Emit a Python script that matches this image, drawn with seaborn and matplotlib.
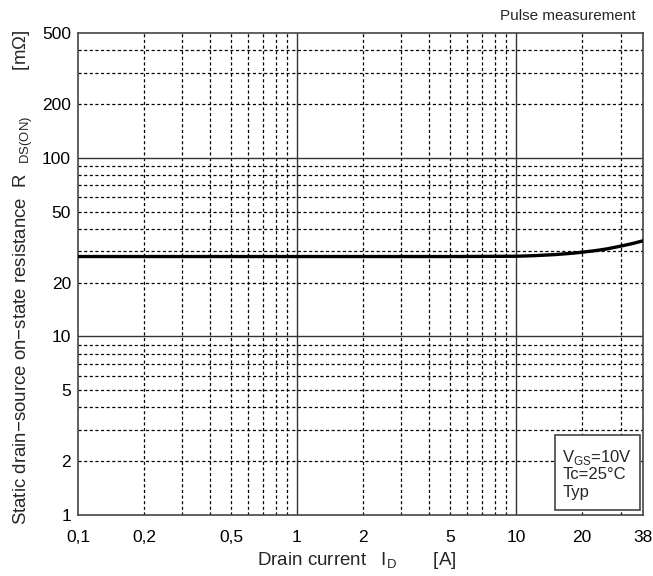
import numpy as np
import pandas as pd
import matplotlib
matplotlib.use("Agg")
import matplotlib.pyplot as plt
import matplotlib.ticker as mticker
import matplotlib.patches as mpatches
import seaborn as sns

# curve
drain_current = [0.1, 0.2, 0.5, 1, 2, 5, 10, 12, 15, 18, 20, 23, 26, 30, 34, 38]
resistance = [28, 28, 28, 28, 28, 28, 28.1, 28.3, 28.7, 29.2, 29.6, 30.2, 30.9, 32, 33.1, 34.3]

x_ticks = [0.1, 0.2, 0.5, 1, 2, 5, 10, 20, 38]
x_labels = ["0,1", "0,2", "0,5", "1", "2", "5", "10", "20", "38"]
y_ticks = [1, 2, 5, 10, 20, 50, 100, 200, 500]
y_labels = ["1", "2", "5", "10", "20", "50", "100", "200", "500"]

x_major = [1, 10]
x_minor = [0.2, 0.3, 0.4, 0.5, 0.6, 0.7, 0.8, 0.9,
           2, 3, 4, 5, 6, 7, 8, 9, 20, 30]
y_major = [10, 100]
y_minor = [2, 3, 4, 5, 6, 7, 8, 9,
           20, 30, 40, 50, 60, 70, 80, 90, 200, 300, 400]

df = pd.DataFrame({"ID": drain_current, "R": resistance})

sns.set_style("white")
plt.rcParams['font.family'] = ['Liberation Sans', 'DejaVu Sans']
plt.rcParams['mathtext.fontset'] = 'custom'
plt.rcParams['mathtext.rm'] = 'Liberation Sans'

fig = plt.figure(figsize=(6.53, 5.76), dpi=100)
ax = fig.add_axes([0.1194, 0.106, 0.8653, 0.8367])

ax.set_xscale("log")
ax.set_yscale("log")
ax.set_xlim(0.1, 38)
ax.set_ylim(1, 500)

# grid
for v in x_minor:
    ax.axvline(v, color="black", lw=0.9, ls=(0, (2.5, 2)), zorder=1)
for v in y_minor:
    ax.axhline(v, color="black", lw=0.9, ls=(0, (2.5, 2)), zorder=1)
for v in x_major:
    ax.axvline(v, color="#333333", lw=1.0, zorder=1)
for v in y_major:
    ax.axhline(v, color="#333333", lw=1.0, zorder=1)

sns.lineplot(data=df, x="ID", y="R", color="black", lw=2.4, ax=ax, zorder=3)

ax.xaxis.set_major_locator(mticker.FixedLocator(x_ticks))
ax.xaxis.set_major_formatter(mticker.FixedFormatter(x_labels))
ax.yaxis.set_major_locator(mticker.FixedLocator(y_ticks))
ax.yaxis.set_major_formatter(mticker.FixedFormatter(y_labels))
ax.xaxis.set_minor_locator(mticker.NullLocator())
ax.yaxis.set_minor_locator(mticker.NullLocator())
ax.tick_params(length=0, labelsize=12.5, colors="black")
ax.tick_params(axis="x", pad=11)
ax.tick_params(axis="y", pad=5)

for s in ax.spines.values():
    s.set_color("#444444")
    s.set_linewidth(1.2)

ax.set_xlabel(r"Drain current   I$_{\mathrm{D}}$       [A]", fontsize=13.5)
ax.xaxis.set_label_coords(0.494, -0.072)
ax.set_ylabel(r"Static drain−source on−state resistance  R  $_{\mathrm{DS(ON)}}$         [m$\Omega$]",
              fontsize=13.4)
ax.yaxis.set_label_coords(-0.076, 0.493)

fig.text(0.973, 0.972, "Pulse measurement", ha="right", va="center", fontsize=11)

# condition box
ax.add_patch(mpatches.Rectangle((0.844, 0.0104), 0.151, 0.156, transform=ax.transAxes,
                                fc="white", ec="#444444", lw=1.2, zorder=5))
ax.text(0.857, 0.120, "V$_{\\mathrm{GS}}$=10V", transform=ax.transAxes,
        ha="left", va="center", fontsize=12, zorder=6)
ax.text(0.857, 0.083, "Tc=25°C", transform=ax.transAxes,
        ha="left", va="center", fontsize=12, zorder=6)
ax.text(0.857, 0.047, "Typ", transform=ax.transAxes,
        ha="left", va="center", fontsize=12, zorder=6)

fig.savefig("out.png", dpi=100)
